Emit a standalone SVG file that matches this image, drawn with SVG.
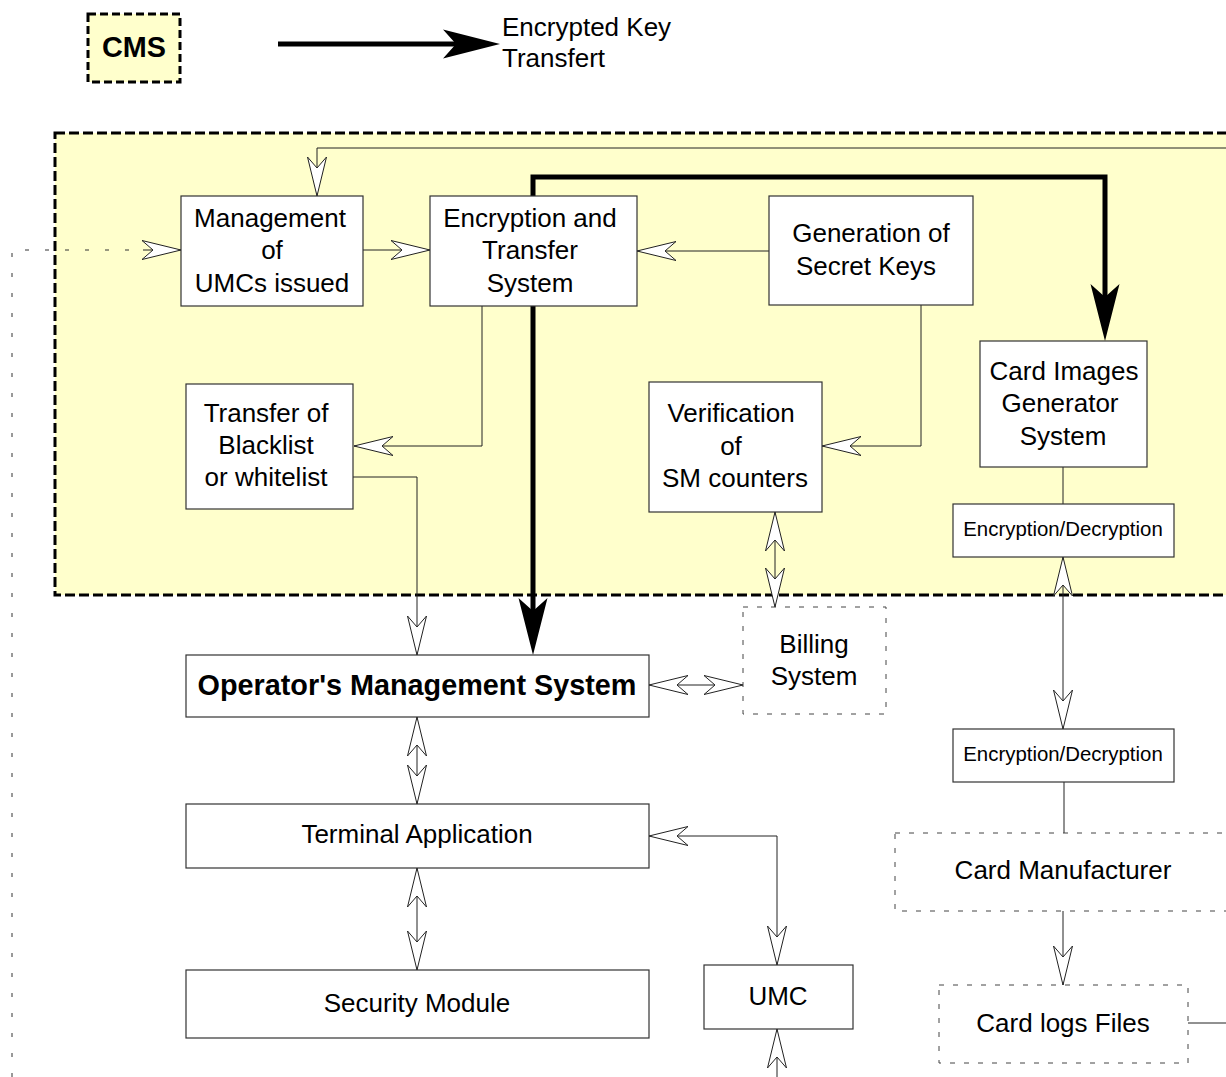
<svg xmlns="http://www.w3.org/2000/svg" width="1226" height="1077" viewBox="0 0 1226 1077">
  <style>
    .box { fill: #ffffff; stroke: #333333; stroke-width: 1.2; }
    .dbox { fill: #ffffff; stroke: #444444; stroke-width: 1; stroke-dasharray: 5 9; }
    .zone { fill: #ffffcc; stroke: #000000; stroke-width: 3; stroke-dasharray: 10 4; }
    .t { font-family: "Liberation Sans", Arial, sans-serif; font-size: 26px; fill: #000000; text-anchor: middle; }
    .ts { font-family: "Liberation Sans", Arial, sans-serif; font-size: 20.4px; fill: #000000; text-anchor: middle; }
    .tb { font-family: "Liberation Sans", Arial, sans-serif; font-size: 28.8px; font-weight: bold; fill: #000000; text-anchor: middle; }
    .tl { font-family: "Liberation Sans", Arial, sans-serif; font-size: 26px; fill: #000000; }
    .c { fill: none; stroke: #222222; stroke-width: 1; }
    .ca { fill: none; stroke: #222222; stroke-width: 1; marker-end: url(#open); }
    .cb { fill: none; stroke: #222222; stroke-width: 1; marker-start: url(#open); marker-end: url(#open); }
    .dot { fill: none; stroke: #333333; stroke-width: 1; stroke-dasharray: 4 16; }
    .key { fill: none; stroke: #000000; stroke-width: 5; marker-end: url(#solid); }
  </style>
  <defs>
    <!-- hollow barbed arrowhead, tip at the path end -->
    <marker id="open" markerUnits="userSpaceOnUse" viewBox="-41 -12 43 24" refX="0" refY="0" markerWidth="43" markerHeight="24" orient="auto-start-reverse" overflow="visible">
      <path d="M0,0 L-39,-9.5 L-28,0 L-39,9.5 Z" fill="#ffffff" stroke="#222222" stroke-width="1"/>
    </marker>
    <!-- solid barbed arrowhead, reaching 44 beyond the path end -->
    <marker id="solid" markerUnits="userSpaceOnUse" viewBox="-14 -16 60 32" refX="0" refY="0" markerWidth="60" markerHeight="32" orient="auto" overflow="visible">
      <path d="M44,0 L-13,-14.5 L0,0 L-13,14.5 Z" fill="#000000"/>
    </marker>
  </defs>

  <!-- legend -->
  <g id="legend">
    <rect x="88" y="14" width="92" height="68" fill="#ffffcc" stroke="#000000" stroke-width="3" stroke-dasharray="8 4"/>
    <text class="tb" x="134" y="57" font-size="25">CMS</text>
    <path class="key" d="M278,44 H456"/>
    <text class="tl" x="502" y="36">Encrypted Key</text>
    <text class="tl" x="502" y="67">Transfert</text>
  </g>

  <!-- CMS zone -->
  <rect id="cms-zone" class="zone" x="55" y="133" width="1200" height="462"/>

  <!-- connectors -->
  <g id="connectors">
    <path class="ca" d="M1226,148 H317 V196"/>
    <path class="dot" d="M12,1077 V250 H143"/>
    <path class="ca" d="M143,250 H181" stroke="none"/>
    <path class="ca" d="M363,250 H430"/>
    <path class="ca" d="M769,251 H637"/>
    <path class="ca" d="M482,306 V446 H354"/>
    <path class="ca" d="M353,477 H417 V655"/>
    <path class="ca" d="M921,305 V446 H822"/>
    <path class="cb" d="M775,512 V607"/>
    <path class="key" d="M533,196 V177 H1105 V297"/>
    <path class="key" d="M533,306 V611"/>
    <path class="c" d="M1063,467 V504"/>
    <path class="cb" d="M1063,557 V729"/>
    <path class="c" d="M1064,782 V833"/>
    <path class="ca" d="M1063,911 V985"/>
    <path class="c" d="M1188,1023 H1226"/>
    <path class="cb" d="M649,685 H743"/>
    <path class="cb" d="M417,717 V804"/>
    <path class="cb" d="M649,836 H777 V965"/>
    <path class="cb" d="M417,868 V970"/>
    <path class="ca" d="M777,1077 V1029"/>
  </g>

  <g id="management-umcs">
    <rect class="box" x="181" y="196" width="182" height="110"/>
    <text class="t" x="270" y="227">Management</text>
    <text class="t" x="272" y="259">of</text>
    <text class="t" x="272" y="292">UMCs issued</text>
  </g>

  <g id="encryption-transfer">
    <rect class="box" x="430" y="196" width="207" height="110"/>
    <text class="t" x="530" y="227">Encryption and</text>
    <text class="t" x="530" y="259">Transfer</text>
    <text class="t" x="530" y="292">System</text>
  </g>

  <g id="secret-keys">
    <rect class="box" x="769" y="196" width="204" height="109"/>
    <text class="t" x="871" y="242">Generation of</text>
    <text class="t" x="866" y="275">Secret Keys</text>
  </g>

  <g id="blacklist">
    <rect class="box" x="186" y="384" width="167" height="125"/>
    <text class="t" x="266" y="422">Transfer of</text>
    <text class="t" x="266" y="454">Blacklist</text>
    <text class="t" x="266" y="486">or whitelist</text>
  </g>

  <g id="sm-counters">
    <rect class="box" x="649" y="382" width="173" height="130"/>
    <text class="t" x="731" y="422">Verification</text>
    <text class="t" x="731" y="455">of</text>
    <text class="t" x="735" y="487">SM counters</text>
  </g>

  <g id="card-images">
    <rect class="box" x="980" y="341" width="167" height="126"/>
    <text class="t" x="1064" y="380">Card Images</text>
    <text class="t" x="1060" y="412">Generator</text>
    <text class="t" x="1063" y="445">System</text>
  </g>

  <g id="encdec-upper">
    <rect class="box" x="953" y="504" width="221" height="53"/>
    <text class="ts" x="1063" y="536">Encryption/Decryption</text>
  </g>

  <g id="billing">
    <rect class="dbox" x="743" y="607" width="143" height="107"/>
    <text class="t" x="814" y="653">Billing</text>
    <text class="t" x="814" y="685">System</text>
  </g>

  <g id="operator-management">
    <rect class="box" x="186" y="655" width="463" height="62"/>
    <text class="tb" x="417" y="695">Operator's Management System</text>
  </g>

  <g id="encdec-lower">
    <rect class="box" x="953" y="729" width="221" height="53"/>
    <text class="ts" x="1063" y="761">Encryption/Decryption</text>
  </g>

  <g id="terminal-application">
    <rect class="box" x="186" y="804" width="463" height="64"/>
    <text class="t" x="417" y="843">Terminal Application</text>
  </g>

  <g id="card-manufacturer">
    <rect class="dbox" x="895" y="833" width="345" height="78"/>
    <text class="t" x="1063" y="879">Card Manufacturer</text>
  </g>

  <g id="security-module">
    <rect class="box" x="186" y="970" width="463" height="68"/>
    <text class="t" x="417" y="1012">Security Module</text>
  </g>

  <g id="umc">
    <rect class="box" x="704" y="965" width="149" height="64"/>
    <text class="t" x="778" y="1005">UMC</text>
  </g>

  <g id="card-logs">
    <rect class="dbox" x="939" y="985" width="249" height="78"/>
    <text class="t" x="1063" y="1032">Card logs Files</text>
  </g>
</svg>
